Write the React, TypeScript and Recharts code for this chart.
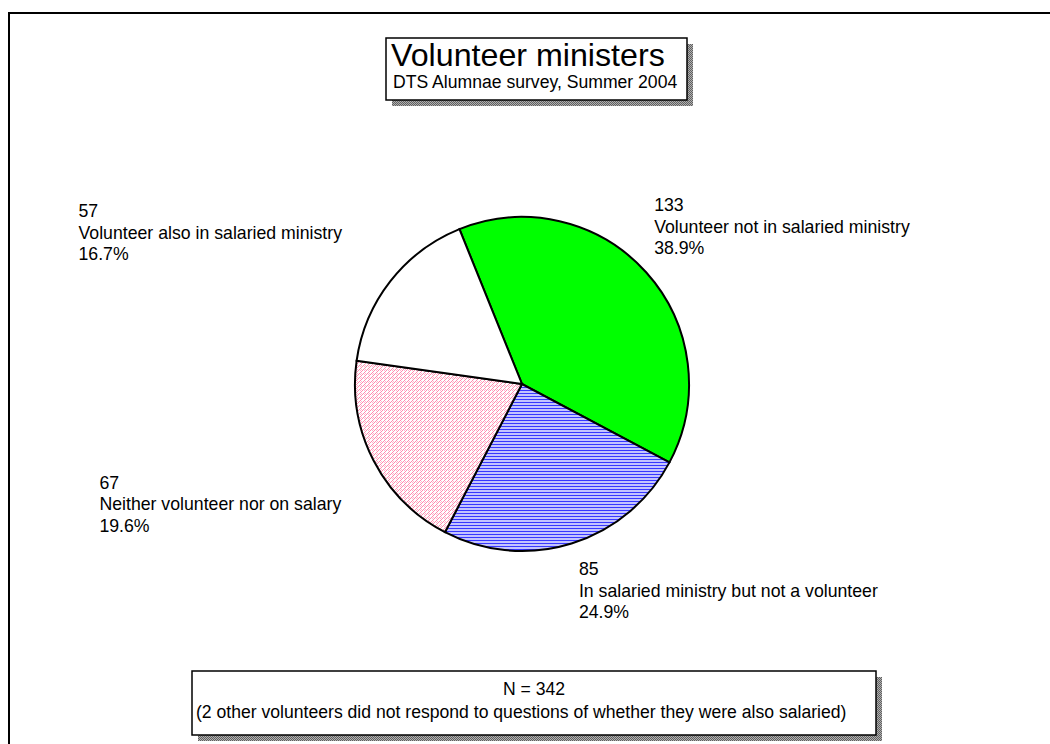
import React from "react";
import { PieChart, Pie, Cell } from "recharts";

// ---- data ----
const CATEGORIES = [
  "Volunteer not in salaried ministry",
  "In salaried ministry but not a volunteer",
  "Neither volunteer nor on salary",
  "Volunteer also in salaried ministry",
];
const COUNTS = [133, 85, 67, 57];
const TITLE = "Volunteer ministers";
const SUBTITLE = "DTS Alumnae survey, Summer 2004";
const NOTE_LINES = [
  "N = 342",
  "(2 other volunteers did not respond to questions of whether they were also salaried)",
];

// ---- styling / layout ----
const FILLS = ["#00ff00", "url(#stripeBlue)", "url(#dotPink)", "#ffffff"];
// offsets of each label block (left x, first baseline) from a radial anchor point
const LABEL_OFFSETS = [
  { dx: -23, dy: -33 },
  { dx: -5, dy: -8 },
  { dx: -237, dy: 9 },
  { dx: -279, dy: -38 },
];
const FONT = "'Liberation Sans', Arial, Helvetica, sans-serif";
const LABEL_SIZE = 17.7;
const LINE_GAP = 21.5;

const data = CATEGORIES.map((name, i) => ({ name, value: COUNTS[i] }));
const RAD = Math.PI / 180;

const renderLabel = (props: any) => {
  const { cx, cy, midAngle, outerRadius, index, value, percent, name } = props;
  const r = outerRadius * 1.25;
  const px = cx + r * Math.cos(-midAngle * RAD);
  const py = cy + r * Math.sin(-midAngle * RAD);
  const off = LABEL_OFFSETS[index];
  const x = px + off.dx;
  const y = py + off.dy;
  const lines = [String(value), name, (percent * 100).toFixed(1) + "%"];
  return (
    <text x={x} y={y} fontFamily={FONT} fontSize={LABEL_SIZE} fill="#000" textAnchor="start">
      {lines.map((l, i) => (
        <tspan key={i} x={x} y={y + i * LINE_GAP}>
          {l}
        </tspan>
      ))}
    </text>
  );
};

export default function App() {
  return (
    <div style={{ position: "absolute", left: 0, top: 0, width: 1050, height: 744, background: "#fff", overflow: "hidden" }}>
      <svg width={1050} height={744} style={{ position: "absolute", left: 0, top: 0 }}>
        <defs>
          <pattern id="shadowChk" width="2" height="2" patternUnits="userSpaceOnUse">
            <rect width="2" height="2" fill="#b0b0b0" />
            <rect width="1" height="1" fill="#606060" />
            <rect x="1" y="1" width="1" height="1" fill="#606060" />
          </pattern>
        </defs>
        {/* outer frame */}
        <path d="M9 760 L9 13 L1060 13" fill="none" stroke="#000" strokeWidth={2} />
        {/* title box */}
        <rect x={392} y={44} width={301} height={62} fill="url(#shadowChk)" />
        <rect x={386} y={38} width={301} height={62} fill="#fff" stroke="#000" strokeWidth={1.5} />
        <text x={391} y={66} fontFamily={FONT} fontSize={32.2} fill="#000">{TITLE}</text>
        <text x={393} y={88} fontFamily={FONT} fontSize={17.6} fill="#000">{SUBTITLE}</text>
        {/* note box */}
        <rect x={198} y={677} width={684} height={64} fill="url(#shadowChk)" />
        <rect x={192} y={671} width={684} height={64} fill="#fff" stroke="#000" strokeWidth={1.5} />
        <text x={534} y={695} textAnchor="middle" fontFamily={FONT} fontSize={17.6} fill="#000">{NOTE_LINES[0]}</text>
        <text x={196} y={718} fontFamily={FONT} fontSize={17.6} fill="#000">{NOTE_LINES[1]}</text>
      </svg>
      <div style={{ position: "absolute", left: 0, top: 0 }}>
        <PieChart width={1050} height={744} margin={{ top: 0, right: 0, bottom: 0, left: 0 }}>
          <defs>
            <pattern id="stripeBlue" width="4" height="3" patternUnits="userSpaceOnUse">
              <rect width="4" height="3" fill="#c4c4ff" />
              <rect width="4" height="1" fill="#3838ff" />
            </pattern>
            <pattern id="dotPink" width="4" height="4" patternUnits="userSpaceOnUse">
              <rect width="4" height="4" fill="#ffffff" />
              <rect x="0" y="0" width="1" height="1" fill="#ff8cb0" />
              <rect x="1" y="1" width="1" height="1" fill="#ffb8cc" />
              <rect x="3" y="1" width="1" height="1" fill="#ff8cb0" />
              <rect x="2" y="2" width="1" height="1" fill="#ff8cb0" />
              <rect x="0" y="2" width="1" height="1" fill="#ffb8cc" />
              <rect x="1" y="3" width="1" height="1" fill="#ff8cb0" />
            </pattern>
          </defs>
          <Pie
            data={data}
            dataKey="value"
            nameKey="name"
            cx={522}
            cy={384}
            outerRadius={167}
            startAngle={112}
            endAngle={-248}
            stroke="#000"
            strokeWidth={2}
            label={renderLabel}
            labelLine={false}
            isAnimationActive={false}
          >
            {data.map((d, i) => (
              <Cell key={d.name} fill={FILLS[i]} />
            ))}
          </Pie>
        </PieChart>
      </div>
    </div>
  );
}
